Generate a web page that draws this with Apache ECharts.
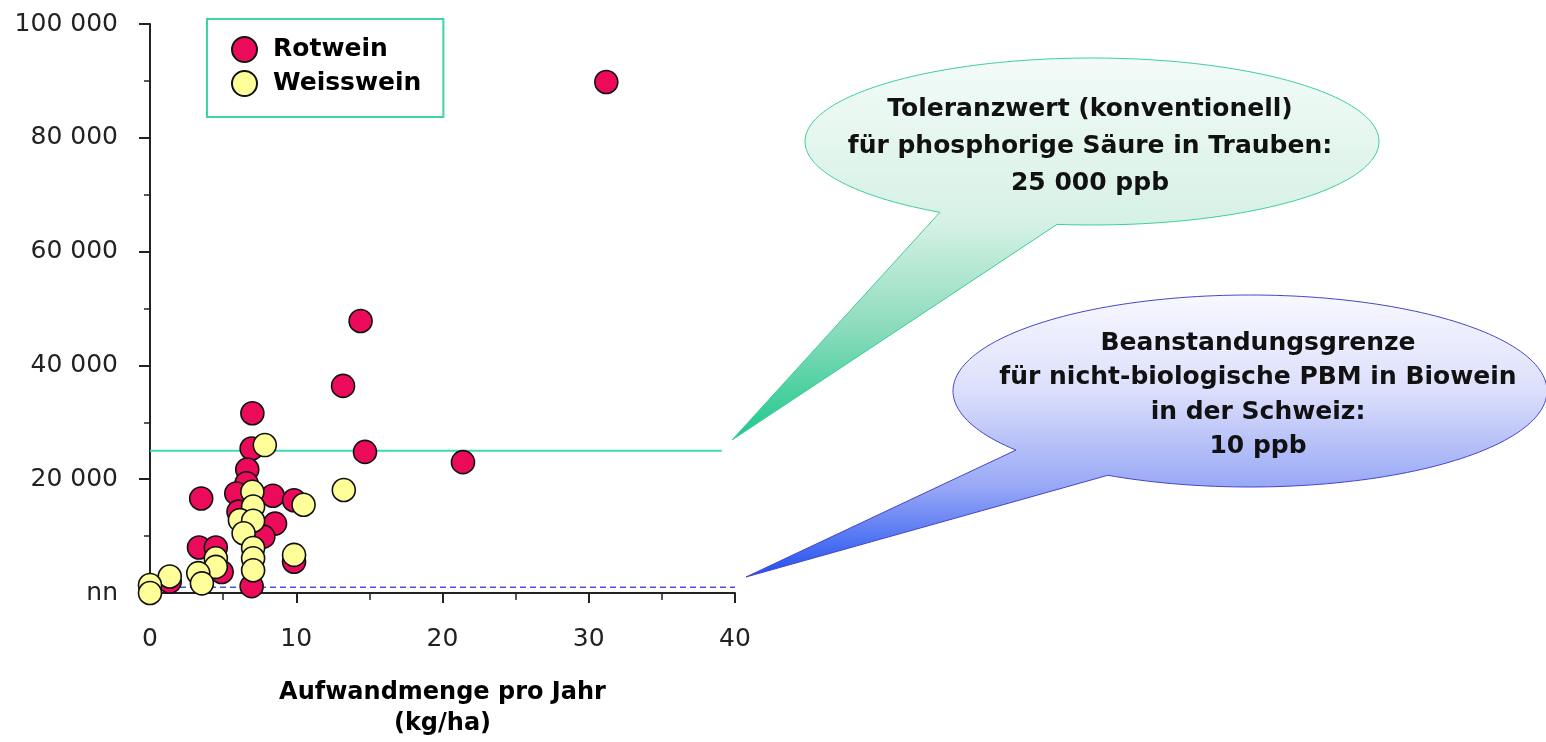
<!DOCTYPE html>
<html><head><meta charset="utf-8">
<script src="https://cdn.jsdelivr.net/npm/echarts@6/dist/echarts.min.js"></script>
<style>html,body{margin:0;padding:0;background:#fff}#c{width:1546px;height:742px}</style>
</head><body><div id="c"></div>
<script>
// ---- data (x: Aufwandmenge kg/ha, y: ppb) ----
const seriesNames = ['Rotwein', 'Weisswein'];
const rotwein = [
  [31.2, 89800], [14.4, 47800], [13.2, 36400], [14.7, 24800], [21.4, 23000],
  [7.0, 31600], [6.95, 25400], [6.65, 21700], [6.6, 19300], [3.5, 16600],
  [5.9, 17500], [8.4, 17100], [9.85, 16300], [8.55, 12200], [7.75, 9900],
  [6.05, 14300], [3.35, 8000], [4.5, 8000], [4.9, 3700], [9.85, 5500],
  [6.95, 1200], [1.35, 2000]
];
const weisswein = [
  [7.85, 26000], [13.25, 18100], [7.0, 17800], [7.05, 15200], [10.5, 15500],
  [6.15, 12800], [7.05, 12700], [6.4, 10500], [7.05, 7900], [7.05, 6100],
  [7.05, 4000], [9.85, 6700], [4.5, 6100], [4.5, 4600], [3.3, 3500],
  [3.55, 1700], [1.35, 2900], [0, 1400], [0, 0]
];
const toleranzwertX = [0, 39.1];
const toleranzwertY = 25000;
const grenzeX = [0, 40];
const grenzeY = 1000;
const yZeroLabel = 'nn';
const xTitle = ['Aufwandmenge pro Jahr', '(kg/ha)'];
const calloutGreen = ['Toleranzwert (konventionell)', 'für phosphorige Säure in Trauben:', '25 000 ppb'];
const calloutBlue = ['Beanstandungsgrenze', 'für nicht-biologische PBM in Biowein', 'in der Schweiz:', '10 ppb'];

const FONT = '"DejaVu Sans", "Liberation Sans", Arial, sans-serif';

function fmtY(v) {
  if (v === 0) return yZeroLabel;
  return String(v).replace(/\B(?=(\d{3})+(?!\d))/g, ' ');
}

// speech-bubble outline: ellipse arc (long way round) + pointed tail
function calloutPoints(cx, cy, rx, ry, aRight, aLeft, tip) {
  const pts = [];
  const start = aRight, end = aLeft - 360;
  const n = 200;
  for (let i = 0; i <= n; i++) {
    const t = (start + (end - start) * i / n) * Math.PI / 180;
    pts.push([cx + rx * Math.cos(t), cy + ry * Math.sin(t)]);
  }
  pts.push(tip);
  return pts;
}
function vGrad(stops) {
  return { type: 'linear', x: 0, y: 0, x2: 0, y2: 1, colorStops: stops.map(s => ({ offset: s[0], color: s[1] })) };
}

const chart = echarts.init(document.getElementById('c'));
const axisCol = '#222';

chart.setOption({
  animation: false,
  backgroundColor: '#fff',
  grid: { left: 150, right: 811, top: 24, bottom: 149, containLabel: false, outerBoundsMode: 'none' },
  legend: {
    data: seriesNames,
    orient: 'vertical',
    left: 207, top: 19,
    padding: [17, 22, 20, 24],
    itemGap: 7,
    itemWidth: 25, itemHeight: 25,
    icon: 'circle',
    borderColor: '#3fd3a8', borderWidth: 2,
    backgroundColor: '#fff',
    textStyle: { fontFamily: FONT, fontWeight: 'bold', fontSize: 25, color: '#000', padding: [0, 0, 0, 11] }
  },
  xAxis: {
    type: 'value', min: 0, max: 40, interval: 10,
    axisLine: { lineStyle: { color: axisCol, width: 2 } },
    axisTick: { show: true, length: 10, lineStyle: { color: axisCol, width: 2 } },
    minorTick: { show: true, splitNumber: 2, length: 7, lineStyle: { color: axisCol, width: 1.5 } },
    splitLine: { show: false },
    axisLabel: { margin: 34, fontFamily: FONT, fontSize: 25, color: '#222' },
    name: xTitle.join('\n'),
    nameLocation: 'middle',
    nameGap: 84,
    nameTextStyle: { fontFamily: FONT, fontWeight: 'bold', fontSize: 24, lineHeight: 31, color: '#000' }
  },
  yAxis: {
    type: 'value', min: 0, max: 100000, interval: 20000,
    axisLine: { lineStyle: { color: axisCol, width: 2 } },
    axisTick: { show: true, length: 11, lineStyle: { color: axisCol, width: 2 } },
    minorTick: { show: true, splitNumber: 2, length: 6, lineStyle: { color: axisCol, width: 1.5 } },
    splitLine: { show: false },
    axisLabel: { margin: 32, fontFamily: FONT, fontSize: 25, color: '#222', formatter: fmtY }
  },
  series: [
    {
      name: 'Toleranzwert', type: 'line', silent: true, symbol: 'none', z: 1,
      data: toleranzwertX.map(x => [x, toleranzwertY]),
      lineStyle: { color: '#3fd9b2', width: 2 }
    },
    {
      name: 'Beanstandungsgrenze', type: 'line', silent: true, symbol: 'none', z: 1,
      data: grenzeX.map(x => [x, grenzeY]),
      lineStyle: { color: '#4f4fe0', width: 1.5, type: [6, 4] }
    },
    {
      name: seriesNames[0], type: 'scatter', z: 3, symbolSize: 23,
      data: rotwein,
      itemStyle: { color: '#EC0B5B', borderColor: '#111', borderWidth: 1.6, opacity: 1 }
    },
    {
      name: seriesNames[1], type: 'scatter', z: 4, symbolSize: 23,
      data: weisswein,
      itemStyle: { color: '#FFFF99', borderColor: '#111', borderWidth: 1.6, opacity: 1 }
    }
  ],
  graphic: [
    {
      type: 'polygon', z: 10,
      shape: { points: calloutPoints(1092, 141.5, 287, 83.5, 97, 122, [732, 440]) },
      style: {
        fill: vGrad([[0, '#f3fbf8'], [0.43, '#d6f1e5'], [0.7, '#8edcbd'], [1, '#1cc88b']]),
        stroke: '#3ccf9c', lineWidth: 1
      }
    },
    {
      type: 'text', z: 11,
      x: 1090, y: 146,
      style: {
        text: calloutGreen.join('\n'),
        align: 'center', verticalAlign: 'middle',
        font: 'bold 25px ' + FONT, lineHeight: 37, fill: '#111'
      }
    },
    {
      type: 'polygon', z: 10,
      shape: { points: calloutPoints(1250, 391, 297, 96, 118.6, 142, [746, 577]) },
      style: {
        fill: vGrad([[0, '#f8f8ff'], [0.34, '#dcdffb'], [0.68, '#98a8f6'], [1, '#1f4ff0']]),
        stroke: '#4646c8', lineWidth: 1
      }
    },
    {
      type: 'text', z: 11,
      x: 1258, y: 395,
      style: {
        text: calloutBlue.join('\n'),
        align: 'center', verticalAlign: 'middle',
        font: 'bold 25px ' + FONT, lineHeight: 34.5, fill: '#111'
      }
    }
  ]
});
</script>
</body></html>
